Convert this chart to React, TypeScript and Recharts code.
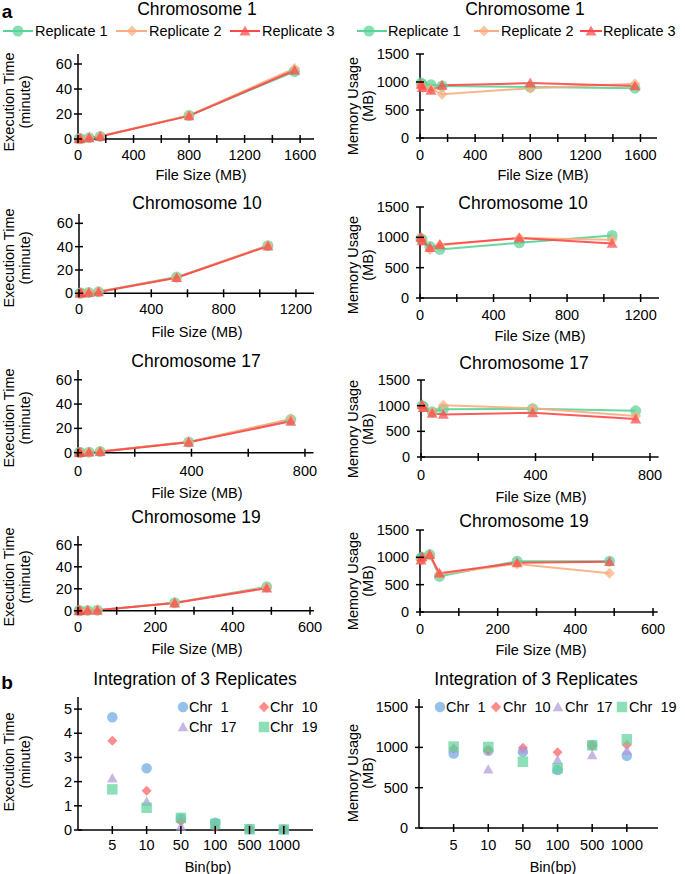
import React from 'react';
import { LineChart, Line, ScatterChart, Scatter, XAxis, YAxis } from 'recharts';

const FONT = '"Liberation Sans", Arial, Helvetica, sans-serif';
const TICK_FONT = 14.5;
const AXIS = { stroke: '#000', strokeWidth: 1.5 };

// ---- panel a: three replicates per chromosome ----
const replicateNames = ['Replicate 1', 'Replicate 2', 'Replicate 3'];
const replicateColors = ['#5ad396', '#f7ae80', '#ff4848'];
const replicateShapes = ['circle', 'diamond', 'triangle'];

// Chromosome 1
const chr1Size = [8, 16, 80, 160, 800, 1560];
const chr1Time1 = [0.2, 0.4, 1.1, 2.1, 18.8, 54];
const chr1Time2 = [0.2, 0.4, 1.1, 2.2, 18.9, 56.5];
const chr1Time3 = [0.1, 0.3, 1.0, 2.0, 18.5, 55];
const chr1Mem1 = [980, 960, 950, 930, 910, 890];
const chr1Mem2 = [950, 900, 880, 780, 890, 970];
const chr1Mem3 = [960, 900, 850, 940, 980, 930];

// Chromosome 10
const chr10Size = [5, 11, 54, 108, 540, 1045];
const chr10Time1 = [0.1, 0.2, 0.6, 1.3, 13.9, 40.8];
const chr10Time2 = [0.1, 0.2, 0.6, 1.3, 13.6, 41.0];
const chr10Time3 = [0.1, 0.2, 0.5, 1.2, 13.4, 40.4];
const chr10Mem1 = [980, 960, 850, 800, 910, 1030];
const chr10Mem2 = [990, 950, 800, 870, 990, 960];
const chr10Mem3 = [1000, 940, 830, 880, 990, 900];

// Chromosome 17
const chr17Size = [4, 8, 39, 78, 390, 750];
const chr17Time1 = [0.1, 0.2, 0.4, 0.9, 8.7, 27.2];
const chr17Time2 = [0.1, 0.2, 0.4, 0.9, 8.9, 27.8];
const chr17Time3 = [0.1, 0.1, 0.4, 0.8, 8.5, 25.8];
const chr17Mem1 = [1000, 980, 880, 930, 940, 900];
const chr17Mem2 = [990, 970, 870, 1010, 950, 800];
const chr17Mem3 = [1020, 960, 850, 830, 860, 740];

// Chromosome 19
const chr19Size = [2.5, 5, 25, 50, 250, 488];
const chr19Time1 = [0.1, 0.1, 0.3, 0.6, 7.4, 21.8];
const chr19Time2 = [0.1, 0.1, 0.3, 0.6, 7.2, 21.3];
const chr19Time3 = [0.0, 0.1, 0.3, 0.5, 7.0, 20.6];
const chr19Mem1 = [990, 1000, 1050, 650, 930, 930];
const chr19Mem2 = [960, 950, 1040, 690, 880, 710];
const chr19Mem3 = [950, 1010, 1050, 710, 900, 920];

// axis ticks
const timeTicks = [0, 20, 40, 60];
const memTicks = [0, 500, 1000, 1500];
const size1600Ticks = [0, 200, 400, 600, 800, 1000, 1200, 1400, 1600];
const size1600Labels = [0, 400, 800, 1200, 1600];
const size1200Ticks = [0, 200, 400, 600, 800, 1000, 1200];
const size1200Labels = [0, 400, 800, 1200];
const size800Ticks = [0, 200, 400, 600, 800];
const size800Labels = [0, 400, 800];
const size600Ticks = [0, 100, 200, 300, 400, 500, 600];
const size600Labels = [0, 200, 400, 600];

// ---- panel b: integration of 3 replicates ----
const binLabels = ['5', '10', '50', '100', '500', '1000'];
const chrNames = ['Chr  1', 'Chr  10', 'Chr  17', 'Chr  19'];
const chrColors = ['#6eaae0', '#ff6060', '#b298dc', '#5fd39a'];
const chrShapes = ['circle', 'diamond', 'triangle', 'square'];
const binTime1 = [4.66, 2.55, 0.48, 0.3, 0.04, 0.02];
const binTime10 = [3.69, 1.62, 0.35, 0.1, 0.03, 0.02];
const binTime17 = [2.14, 1.17, 0.14, 0.2, 0.03, 0.02];
const binTime19 = [1.68, 0.92, 0.5, 0.25, 0.03, 0.02];
const binMem1 = [925, 958, 945, 718, 1030, 896];
const binMem10 = [987, 967, 995, 938, 1016, 1030];
const binMem17 = [990, 727, 975, 843, 905, 960];
const binMem19 = [1010, 1005, 822, 740, 1025, 1100];
const binTimeTicks = [0, 1, 2, 3, 4, 5];
const binMemTicks = [0, 500, 1000, 1500];

type Box = { left: number; right: number; top: number; bottom: number };

function Marker({ shape, cx, cy, size, color, opacity = 0.72 }: any) {
  if (cx == null || cy == null) return null;
  const h = size / 2;
  if (shape === 'circle') return <circle cx={cx} cy={cy} r={h} fill={color} fillOpacity={opacity} />;
  if (shape === 'diamond')
    return (
      <polygon
        points={`${cx},${cy - h} ${cx + h},${cy} ${cx},${cy + h} ${cx - h},${cy}`}
        fill={color}
        fillOpacity={opacity}
      />
    );
  if (shape === 'triangle')
    return (
      <polygon
        points={`${cx},${cy - h} ${cx + h},${cy + h * 0.8} ${cx - h},${cy + h * 0.8}`}
        fill={color}
        fillOpacity={opacity}
      />
    );
  return <rect x={cx - h} y={cy - h} width={size} height={size} fill={color} fillOpacity={opacity} />;
}

function XTick(props: any) {
  const { x, y, payload, labels, names, labelDy } = props;
  const v = payload.value;
  let text: string | null = null;
  if (names) text = names[v - 1] ?? null;
  else if (labels.includes(v)) text = String(v);
  return (
    <g>
      <line x1={x} x2={x} y1={y - 4} y2={y + 4} stroke="#000" strokeWidth={1.5} />
      {text !== null && (
        <text x={x} y={y + labelDy + 5} textAnchor="middle" fontSize={TICK_FONT} fontFamily={FONT} fill="#000">
          {text}
        </text>
      )}
    </g>
  );
}

function YTick(props: any) {
  const { x, y, payload, gap } = props;
  return (
    <g>
      <line x1={x - 4} x2={x + 4} y1={y} y2={y} stroke="#000" strokeWidth={1.5} />
      <text x={x - gap} y={y + 5} textAnchor="end" fontSize={TICK_FONT} fontFamily={FONT} fill="#000">
        {payload.value}
      </text>
    </g>
  );
}

const PAD_L = 50;
const PAD_T = 10;
const PAD_R = 12;
const PAD_B = 30;

function ReplicatePanel({ sizes, reps, box, xMax, xTicks, xLabels, yMax, yTicks, yGap, labelDy }: any) {
  const data = sizes.map((s: number, i: number) => ({ size: s, r0: reps[0][i], r1: reps[1][i], r2: reps[2][i] }));
  const b: Box = box;
  const width = b.right - b.left + PAD_L + PAD_R;
  const height = b.bottom - b.top + PAD_T + PAD_B;
  return (
    <div style={{ position: 'absolute', left: b.left - PAD_L, top: b.top - PAD_T }}>
      <LineChart width={width} height={height} data={data} margin={{ top: PAD_T, right: PAD_R, bottom: 0, left: 0 }}>
        <XAxis
          type="number"
          dataKey="size"
          domain={[0, xMax]}
          ticks={xTicks}
          interval={0}
          height={PAD_B}
          tickSize={0}
          tickMargin={0}
          tickLine={false}
          axisLine={AXIS}
          tick={(p: any) => <XTick {...p} labels={xLabels} labelDy={labelDy} />}
        />
        <YAxis
          type="number"
          domain={[0, yMax]}
          ticks={yTicks}
          interval={0}
          width={PAD_L}
          tickSize={0}
          tickMargin={0}
          tickLine={false}
          axisLine={AXIS}
          tick={(p: any) => <YTick {...p} gap={yGap} />}
        />
        {[0, 1, 2].map((k) => (
          <Line
            key={k}
            type="linear"
            dataKey={`r${k}`}
            stroke={replicateColors[k]}
            strokeWidth={2}
            strokeOpacity={0.9}
            isAnimationActive={false}
            activeDot={false}
            dot={(p: any) => (
              <Marker
                key={`${k}-${p.index}`}
                shape={replicateShapes[k]}
                cx={p.cx}
                cy={p.cy}
                size={11}
                color={replicateColors[k]}
              />
            )}
          />
        ))}
      </LineChart>
    </div>
  );
}

function BinPanel({ series, box, xMax, yMax, yTicks, yGap, labelDy }: any) {
  const b: Box = box;
  const width = b.right - b.left + PAD_L + PAD_R;
  const height = b.bottom - b.top + PAD_T + PAD_B;
  const binTicks = binLabels.map((_, i) => i + 1);
  return (
    <div style={{ position: 'absolute', left: b.left - PAD_L, top: b.top - PAD_T }}>
      <ScatterChart width={width} height={height} margin={{ top: PAD_T, right: PAD_R, bottom: 0, left: 0 }}>
        <XAxis
          type="number"
          dataKey="x"
          domain={[0, xMax]}
          ticks={binTicks}
          interval={0}
          height={PAD_B}
          tickSize={0}
          tickMargin={0}
          tickLine={false}
          axisLine={AXIS}
          tick={(p: any) => <XTick {...p} names={binLabels} labelDy={labelDy} />}
        />
        <YAxis
          type="number"
          dataKey="y"
          domain={[0, yMax]}
          ticks={yTicks}
          interval={0}
          width={PAD_L}
          tickSize={0}
          tickMargin={0}
          tickLine={false}
          axisLine={AXIS}
          tick={(p: any) => <YTick {...p} gap={yGap} />}
        />
        {series.map((vals: number[], k: number) => (
          <Scatter
            key={k}
            data={binLabels.map((_, i) => ({ x: i + 1, y: vals[i] }))}
            isAnimationActive={false}
            shape={(p: any) => (
              <Marker shape={chrShapes[k]} cx={p.cx} cy={p.cy} size={chrShapes[k] === 'diamond' ? 10 : 10.5} color={chrColors[k]} />
            )}
          />
        ))}
      </ScatterChart>
    </div>
  );
}

function Txt({ x, y, size = 14.5, children, rotate = false, bold = false, anchor = 'middle' }: any) {
  const tx = anchor === 'middle' ? '-50%' : '0';
  return (
    <div
      style={{
        position: 'absolute',
        left: x,
        top: y,
        transform: `translate(${tx}, -50%)${rotate ? ' rotate(-90deg)' : ''}`,
        fontSize: size,
        lineHeight: 1,
        whiteSpace: 'pre',
        fontWeight: bold ? 'bold' : 'normal',
        color: '#000',
      }}
    >
      {children}
    </div>
  );
}

// legend item with a line segment [x0, x1], marker at mx and text from tx
function LineLegendItem({ x0, x1, mx, tx, y, color, shape, label }: any) {
  return (
    <>
      <svg style={{ position: 'absolute', left: x0, top: y - 8 }} width={x1 - x0} height={16}>
        <line x1={0} x2={x1 - x0} y1={8} y2={8} stroke={color} strokeWidth={2} />
        <Marker shape={shape} cx={mx - x0} cy={8} size={11} color={color} />
      </svg>
      <Txt x={tx} y={y} anchor="start">
        {label}
      </Txt>
    </>
  );
}

function MarkerLegendItem({ mx, tx, y, color, shape, label }: any) {
  return (
    <>
      <svg style={{ position: 'absolute', left: mx - 7, top: y - 7 }} width={14} height={14}>
        <Marker shape={shape} cx={7} cy={7} size={10.5} color={color} />
      </svg>
      <Txt x={tx} y={y} anchor="start">
        {label}
      </Txt>
    </>
  );
}

function YTitle({ x1, x2, y, line1, line2 }: any) {
  return (
    <>
      <Txt x={x1} y={y} rotate>
        {line1}
      </Txt>
      <Txt x={x2} y={y} rotate>
        {line2}
      </Txt>
    </>
  );
}

export default function App() {
  const leftLegend = [
    { x0: 3, x1: 33, mx: 18, tx: 35 },
    { x0: 116, x1: 147, mx: 132, tx: 149 },
    { x0: 230, x1: 260, mx: 245, tx: 262 },
  ];
  const rightLegend = [
    { x0: 357, x1: 387, mx: 369, tx: 388 },
    { x0: 474, x1: 499, mx: 484, tx: 501 },
    { x0: 580, x1: 602, mx: 591, tx: 603 },
  ];
  const bLeftLegend = [
    { mx: 183, tx: 189, y: 707 },
    { mx: 264, tx: 270, y: 707 },
    { mx: 183, tx: 189, y: 727 },
    { mx: 264, tx: 270, y: 727 },
  ];
  const bRightLegend = [
    { mx: 440, tx: 446, y: 707 },
    { mx: 496, tx: 503, y: 707 },
    { mx: 558, tx: 565, y: 707 },
    { mx: 622, tx: 629, y: 707 },
  ];
  return (
    <div
      style={{
        position: 'fixed',
        left: 0,
        top: 0,
        width: 685,
        height: 874,
        background: '#fff',
        fontFamily: FONT,
        overflow: 'hidden',
      }}
    >
      {/* row 1: chromosome 1 */}
      <ReplicatePanel
        sizes={chr1Size}
        reps={[chr1Time1, chr1Time2, chr1Time3]}
        box={{ left: 78, right: 314, top: 54, bottom: 139 }}
        xMax={1700}
        xTicks={size1600Ticks}
        xLabels={size1600Labels}
        yMax={68}
        yTicks={timeTicks}
        yGap={6}
        labelDy={16}
      />
      <ReplicatePanel
        sizes={chr1Size}
        reps={[chr1Mem1, chr1Mem2, chr1Mem3]}
        box={{ left: 420, right: 657, top: 54, bottom: 138 }}
        xMax={1720}
        xTicks={size1600Ticks}
        xLabels={size1600Labels}
        yMax={1500}
        yTicks={memTicks}
        yGap={11}
        labelDy={17}
      />
      {/* row 2: chromosome 10 */}
      <ReplicatePanel
        sizes={chr10Size}
        reps={[chr10Time1, chr10Time2, chr10Time3]}
        box={{ left: 79, right: 314, top: 213.7, bottom: 293 }}
        xMax={1300}
        xTicks={size1200Ticks}
        xLabels={size1200Labels}
        yMax={68}
        yTicks={timeTicks}
        yGap={6}
        labelDy={16}
      />
      <ReplicatePanel
        sizes={chr10Size}
        reps={[chr10Mem1, chr10Mem2, chr10Mem3]}
        box={{ left: 420, right: 659, top: 207, bottom: 298 }}
        xMax={1300}
        xTicks={size1200Ticks}
        xLabels={size1200Labels}
        yMax={1500}
        yTicks={memTicks}
        yGap={11}
        labelDy={17}
      />
      {/* row 3: chromosome 17 */}
      <ReplicatePanel
        sizes={chr17Size}
        reps={[chr17Time1, chr17Time2, chr17Time3]}
        box={{ left: 78, right: 313.5, top: 370.3, bottom: 453 }}
        xMax={830}
        xTicks={size800Ticks}
        xLabels={size800Labels}
        yMax={68}
        yTicks={timeTicks}
        yGap={6}
        labelDy={18.5}
      />
      <ReplicatePanel
        sizes={chr17Size}
        reps={[chr17Mem1, chr17Mem2, chr17Mem3]}
        box={{ left: 421, right: 658.6, top: 380, bottom: 457 }}
        xMax={830}
        xTicks={size800Ticks}
        xLabels={size800Labels}
        yMax={1500}
        yTicks={memTicks}
        yGap={11}
        labelDy={18}
      />
      {/* row 4: chromosome 19 */}
      <ReplicatePanel
        sizes={chr19Size}
        reps={[chr19Time1, chr19Time2, chr19Time3]}
        box={{ left: 78, right: 313.9, top: 536.2, bottom: 611 }}
        xMax={610}
        xTicks={size600Ticks}
        xLabels={size600Labels}
        yMax={68}
        yTicks={timeTicks}
        yGap={6}
        labelDy={16}
      />
      <ReplicatePanel
        sizes={chr19Size}
        reps={[chr19Mem1, chr19Mem2, chr19Mem3]}
        box={{ left: 420, right: 657.7, top: 530, bottom: 612 }}
        xMax={612}
        xTicks={size600Ticks}
        xLabels={size600Labels}
        yMax={1500}
        yTicks={memTicks}
        yGap={11}
        labelDy={17}
      />
      {/* panel b */}
      <BinPanel
        series={[binTime1, binTime10, binTime17, binTime19]}
        box={{ left: 78, right: 313, top: 697, bottom: 830 }}
        xMax={6.85}
        yMax={5.5}
        yTicks={binTimeTicks}
        yGap={6}
        labelDy={15}
      />
      <BinPanel
        series={[binMem1, binMem10, binMem17, binMem19]}
        box={{ left: 419, right: 658, top: 699, bottom: 828 }}
        xMax={6.9}
        yMax={1600}
        yTicks={binMemTicks}
        yGap={11}
        labelDy={17}
      />

      {/* panel letters */}
      <Txt x={7} y={11} size={19} bold>
        a
      </Txt>
      <Txt x={7} y={682} size={19} bold>
        b
      </Txt>

      {/* titles */}
      <Txt x={197} y={10} size={17.5}>Chromosome 1</Txt>
      <Txt x={525} y={10} size={17.5}>Chromosome 1</Txt>
      <Txt x={197} y={204} size={17.5}>Chromosome 10</Txt>
      <Txt x={523} y={204} size={17.5}>Chromosome 10</Txt>
      <Txt x={196} y={362} size={17.5}>Chromosome 17</Txt>
      <Txt x={524} y={364} size={17.5}>Chromosome 17</Txt>
      <Txt x={196} y={518} size={17.5}>Chromosome 19</Txt>
      <Txt x={524} y={522} size={17.5}>Chromosome 19</Txt>
      <Txt x={195} y={680} size={17.5}>Integration of 3 Replicates</Txt>
      <Txt x={536} y={680} size={17.5}>Integration of 3 Replicates</Txt>

      {/* replicate legends */}
      {replicateNames.map((n, k) => (
        <LineLegendItem key={`l${k}`} {...leftLegend[k]} y={31} color={replicateColors[k]} shape={replicateShapes[k]} label={n} />
      ))}
      {replicateNames.map((n, k) => (
        <LineLegendItem key={`r${k}`} {...rightLegend[k]} y={31} color={replicateColors[k]} shape={replicateShapes[k]} label={n} />
      ))}

      {/* chromosome legends */}
      {chrNames.map((n, k) => (
        <MarkerLegendItem key={`bl${k}`} {...bLeftLegend[k]} color={chrColors[k]} shape={chrShapes[k]} label={n} />
      ))}
      {chrNames.map((n, k) => (
        <MarkerLegendItem key={`br${k}`} {...bRightLegend[k]} color={chrColors[k]} shape={chrShapes[k]} label={n} />
      ))}

      {/* x axis titles */}
      <Txt x={201} y={175}>File Size (MB)</Txt>
      <Txt x={543} y={175}>File Size (MB)</Txt>
      <Txt x={197} y={332}>File Size (MB)</Txt>
      <Txt x={540} y={336}>File Size (MB)</Txt>
      <Txt x={197} y={493}>File Size (MB)</Txt>
      <Txt x={541} y={497}>File Size (MB)</Txt>
      <Txt x={197} y={649}>File Size (MB)</Txt>
      <Txt x={541} y={650}>File Size (MB)</Txt>
      <Txt x={208} y={867}>Bin(bp)</Txt>
      <Txt x={553} y={867}>Bin(bp)</Txt>

      {/* y axis titles */}
      <YTitle x1={9} x2={25} y={102} line1="Execution Time" line2="(minute)" />
      <YTitle x1={9} x2={25} y={258} line1="Execution Time" line2="(minute)" />
      <YTitle x1={9} x2={25} y={418} line1="Execution Time" line2="(minute)" />
      <YTitle x1={9} x2={25} y={577} line1="Execution Time" line2="(minute)" />
      <YTitle x1={9} x2={25} y={762} line1="Execution Time" line2="(minute)" />
      <YTitle x1={353} x2={368} y={106} line1="Memory Usage" line2="(MB)" />
      <YTitle x1={353} x2={368} y={265} line1="Memory Usage" line2="(MB)" />
      <YTitle x1={353} x2={368} y={429} line1="Memory Usage" line2="(MB)" />
      <YTitle x1={353} x2={368} y={581} line1="Memory Usage" line2="(MB)" />
      <YTitle x1={353} x2={368} y={773} line1="Memory Usage" line2="(MB)" />
    </div>
  );
}
